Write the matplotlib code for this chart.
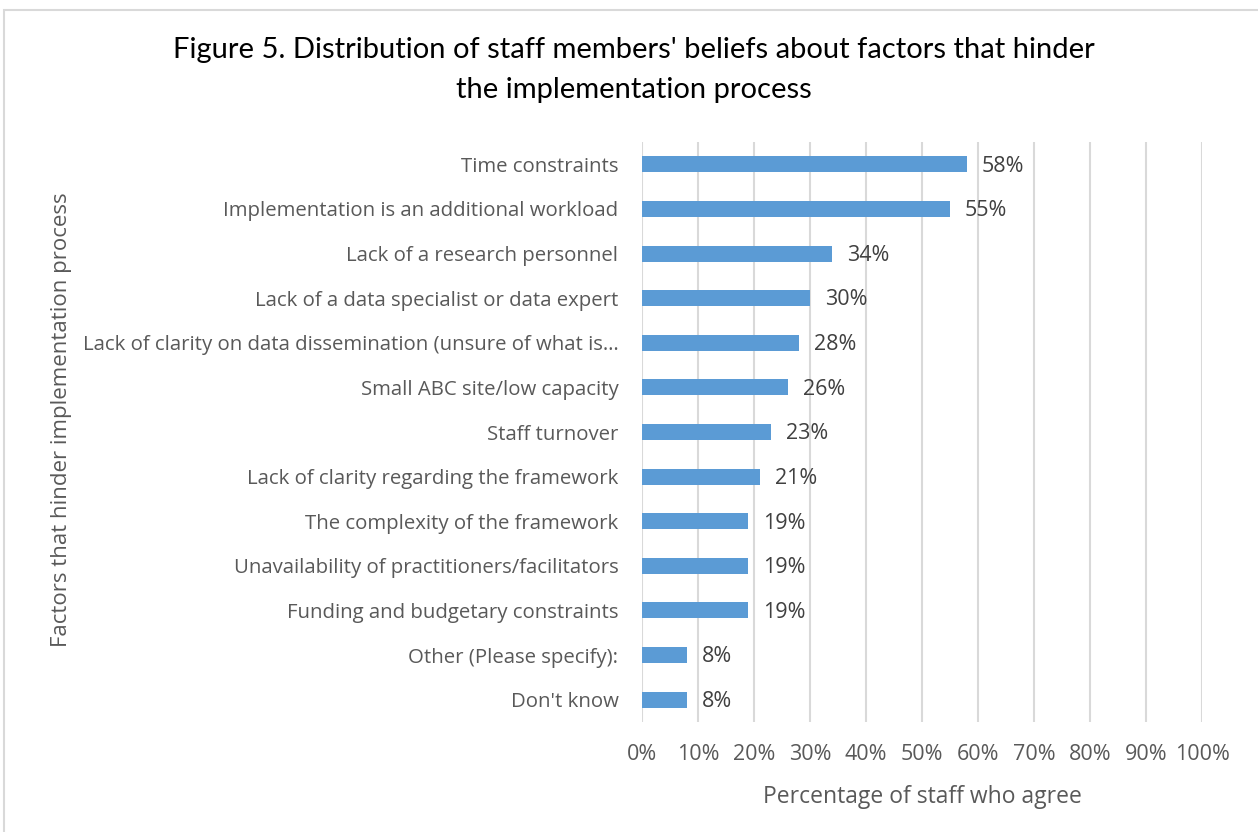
import matplotlib
matplotlib.use("Agg")
import matplotlib.pyplot as plt
from matplotlib.patches import Rectangle

categories = [
    "Time constraints",
    "Implementation is an additional workload",
    "Lack of a research personnel",
    "Lack of a data specialist or data expert",
    "Lack of clarity on data dissemination (unsure of what is\u2026",
    "Small ABC site/low capacity",
    "Staff turnover",
    "Lack of clarity regarding the framework",
    "The complexity of the framework",
    "Unavailability of practitioners/facilitators",
    "Funding and budgetary constraints",
    "Other (Please specify):",
    "Don't know",
]
values = [0.58, 0.55, 0.34, 0.30, 0.28, 0.26, 0.23, 0.21, 0.19, 0.19, 0.19, 0.08, 0.08]
xticks = [0, 0.1, 0.2, 0.3, 0.4, 0.5, 0.6, 0.7, 0.8, 0.9, 1.0]
xticklabels = ["0%", "10%", "20%", "30%", "40%", "50%", "60%", "70%", "80%", "90%", "100%"]

plt.rcParams['font.family'] = ['Open Sans', 'DejaVu Sans']

W, H = 1258, 832
fig = plt.figure(figsize=(W / 100, H / 100), dpi=100)
fig.patches.append(Rectangle((4 / W, -0.01), 1.02, (H - 10) / H + 0.01,
                             transform=fig.transFigure, fill=False,
                             edgecolor="#D9D9D9", linewidth=1.5, zorder=0))

ax = fig.add_axes([642 / W, (H - 722) / H, (1202 - 642) / W, (722 - 142) / H])
n = len(categories)
ypos = list(range(n))
ax.barh(ypos, values, height=0.36, color="#5B9BD5", zorder=3)
ax.set_ylim(n - 0.5, -0.5)
ax.set_xlim(0, 1.0)
ax.set_yticks(ypos)
ax.set_yticklabels(categories, fontsize=14.7, color="#595959")
ax.set_xticks(xticks)
ax.set_xticklabels(xticklabels, fontsize=15.5, color="#595959")
ax.tick_params(axis="y", length=0, pad=17)
ax.tick_params(axis="x", length=0, pad=16)
ax.grid(axis="x", color="#D9D9D9", linewidth=1.5, zorder=0)
for s in ax.spines.values():
    s.set_visible(False)

for y, v in zip(ypos, values):
    ax.text(v + 0.027, y + 0.04, f"{round(v * 100)}%", va="center", ha="left",
            fontsize=15.5, color="#404040", zorder=4)

ax.set_xlabel("Percentage of staff who agree", fontsize=16.5, color="#595959", labelpad=14)
fig.text(62 / W, (H - 420) / H, "Factors that hinder implementation process",
         rotation=90, ha="center", va="center", fontsize=16, color="#595959")

fig.text(634 / W, (H - 50) / H, "Figure 5. Distribution of staff members' beliefs about factors that hinder",
         ha="center", va="center", fontsize=21, color="black", family=["Lato", "DejaVu Sans"])
fig.text(634 / W, (H - 90) / H, "the implementation process",
         ha="center", va="center", fontsize=21, color="black", family=["Lato", "DejaVu Sans"])

fig.savefig("out.png", dpi=100)
